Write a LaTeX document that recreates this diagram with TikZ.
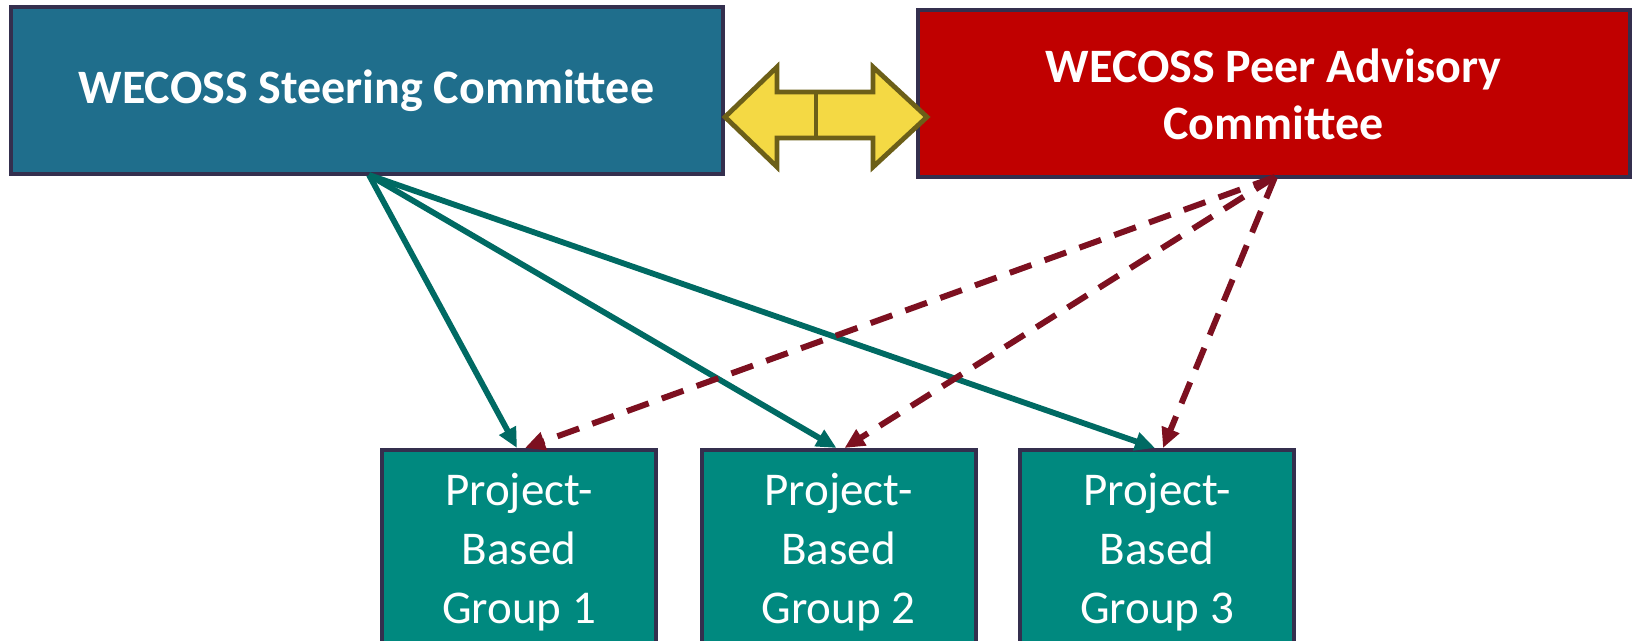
\documentclass[tikz,border=0pt]{standalone}
\usepackage{fontspec}
\usepackage{xcolor}
\usepackage{tikz}
\usetikzlibrary{arrows.meta}
\newfontfamily\calibri{Carlito}
\definecolor{steerblue}{HTML}{1F6E8C}
\definecolor{peerred}{HTML}{C00000}
\definecolor{groupteal}{HTML}{00897F}
\definecolor{boxline}{HTML}{342F4E}
\definecolor{solidteal}{HTML}{006A63}
\definecolor{dashred}{HTML}{7D1020}
\definecolor{linkyellow}{HTML}{F4D944}
\definecolor{linkolive}{HTML}{6C5F18}
\tikzset{
  topbox/.style={draw=boxline, line width=2pt, text=white, align=center,
    minimum width=356pt, minimum height=83.5pt, inner sep=0pt,
    font=\calibri\bfseries\fontsize{24}{28.5}\selectfont},
  groupbox/.style={draw=boxline, line width=2pt, fill=groupteal, text=white, align=center,
    minimum width=137pt, minimum height=102pt, inner sep=0pt,
    font=\calibri\fontsize{23.5}{29.5}\selectfont},
  reports/.style={draw=solidteal, line width=2.9pt, -{Triangle[length=10pt,width=9pt]}},
  advises/.style={draw=dashred, line width=3pt, dash pattern=on 11.5pt off 7pt,
    -{Triangle[length=10pt,width=9pt]}}
}
\begin{document}
\begin{tikzpicture}[x=0.5pt, y=-0.5pt]
\useasboundingbox (0,0) rectangle (1632,641);
\begin{scope}
\clip (0,0) rectangle (1632,641);
% committees
\node[topbox, fill=steerblue] (steer) at (366.5,90.5) {WECOSS Steering Committee};
\node[topbox, fill=peerred] (peer) at (1273.5,94) {WECOSS Peer Advisory\\Committee};
% groups
\node[groupbox] (g1) at (519,552) {Project-\\Based\\Group 1};
\node[groupbox] (g2) at (838.5,552) {Project-\\Based\\Group 2};
\node[groupbox] (g3) at (1157,552) {Project-\\Based\\Group 3};
\end{scope}
% two-way link between committees
\draw[fill=linkyellow, draw=linkolive, line width=2.4pt, line join=miter]
  (725,117) -- (777,67) -- (777,92) -- (873,92) -- (873,67) -- (927,117)
  -- (873,167) -- (873,138) -- (777,138) -- (777,167) -- cycle;
\draw[draw=linkolive, line width=2.4pt] (816,92) -- (816,138);
% connectors
\coordinate (sfoot) at (369,175);
\coordinate (pfoot) at (1275,177);
\foreach \g in {g1,g2,g3}
  \draw[reports] (sfoot) -- ([xshift=-1pt]\g.north);
\foreach \g in {g1,g2,g3}
  \draw[advises] (pfoot) -- ([xshift=3pt]\g.north);
\end{tikzpicture}
\end{document}
